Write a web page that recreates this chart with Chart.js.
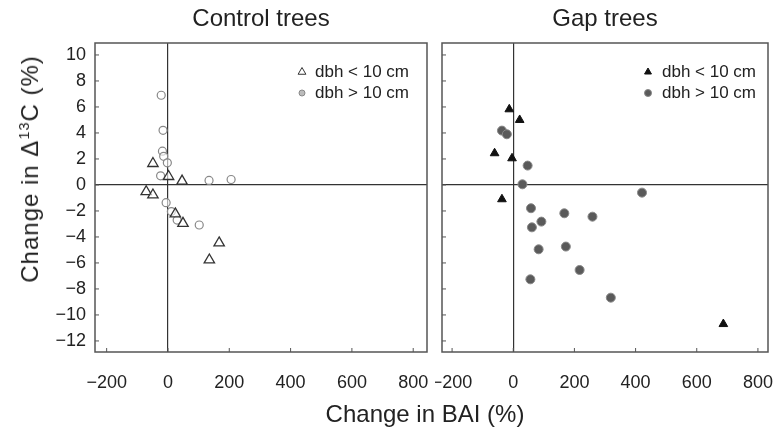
<!DOCTYPE html>
<html>
<head>
<meta charset="utf-8">
<script src="https://cdn.jsdelivr.net/npm/chart.js@4.4.0/dist/chart.umd.min.js"></script>
<style>
  html, body { margin: 0; padding: 0; background: #fff; }
  #wrap { position: relative; width: 778px; height: 432px; background: #fff; font-family: "Liberation Sans", Arial, sans-serif; color: #222; }
  canvas { position: absolute; top: 0; }
  .ytitle { position: absolute; left: 30px; top: 169px; transform: translate(-50%, -50%) rotate(-90deg); white-space: nowrap; font-size: 24px; letter-spacing: 1px; line-height: 1; }
  .ytitle sup { font-size: 0.6em; line-height: 0; }
  .xtitle { position: absolute; left: 425px; top: 414px; transform: translate(-50%, -50%); white-space: nowrap; font-size: 24px; line-height: 1; }
</style>
</head>
<body>
<div id="wrap">
  <canvas id="control" width="435" height="432" style="left:0"></canvas>
  <canvas id="gap" width="343" height="432" style="left:435px"></canvas>
  <div class="ytitle">Change in Δ<sup>13</sup>C (%)</div>
  <div class="xtitle">Change in BAI (%)</div>
</div>
<script>
"use strict";

/* Tick labels */
const xTicks = [-200, 0, 200, 400, 600, 800];
const yTicks = [-12, -10, -8, -6, -4, -2, 0, 2, 4, 6, 8, 10];
const legendLabels = ['dbh < 10 cm', 'dbh > 10 cm'];

/* Control trees */
const controlSmallX = [-49, 2, 46, -71, -49, 24, 49, 167, 135];
const controlSmallY = [1.65, 0.65, 0.3, -0.52, -0.77, -2.23, -2.95, -4.46, -5.77];
const controlLargeX = [-22, -16, -18, -14, -2, -24, 134, 206, -6, 11, 30, 102];
const controlLargeY = [6.9, 4.2, 2.6, 2.2, 1.7, 0.7, 0.35, 0.42, -1.36, -2.05, -2.7, -3.08];

/* Gap trees */
const gapSmallX = [-13, 21, -61, -4, -37, 687];
const gapSmallY = [5.82, 5.0, 2.44, 2.05, -1.1, -10.7];
const gapLargeX = [-37, -21, 47, 30, 58, 92, 61, 167, 259, 421, 83, 172, 217, 56, 319];
const gapLargeY = [4.18, 3.9, 1.49, 0.05, -1.79, -2.82, -3.26, -2.18, -2.44, -0.59, -4.95, -4.74, -6.54, -7.26, -8.67];

Chart.defaults.font.family = '"Liberation Sans", Arial, sans-serif';
Chart.defaults.color = '#222';

function points(xs, ys) {
    return xs.map(function (x, i) { return { x: x, y: ys[i] }; });
}

function minus(v) {
    return String(v).replace('-', '\u2212');
}

// frame, zero lines come from grid, small inward ticks
const framePlugin = {
    id: 'frame',
    beforeDatasetsDraw: function (chart) {
        const ctx = chart.ctx;
        const a = chart.chartArea;
        const xs = chart.scales.x, ys = chart.scales.y;
        ctx.save();
        ctx.strokeStyle = '#555';
        ctx.lineWidth = 1.5;
        ctx.strokeRect(a.left, a.top, a.right - a.left, a.bottom - a.top);
        ctx.lineWidth = 1;
        ctx.beginPath();
        xs.ticks.forEach(function (t) {
            const px = xs.getPixelForValue(t.value);
            ctx.moveTo(px, a.bottom);
            ctx.lineTo(px, a.bottom - 4);
        });
        ys.ticks.forEach(function (t) {
            const py = ys.getPixelForValue(t.value);
            ctx.moveTo(a.left, py);
            ctx.lineTo(a.left + 4, py);
        });
        ctx.stroke();
        ctx.restore();
    },
    afterDraw: function (chart, args, opts) {
        const ctx = chart.ctx;
        const a = chart.chartArea;
        ctx.save();
        ctx.font = '17px "Liberation Sans", Arial, sans-serif';
        ctx.textBaseline = 'middle';
        chart.data.datasets.forEach(function (ds, i) {
            const y = a.top + 29 + i * 21;
            const mx = a.right - opts.markerOffset;
            ctx.fillStyle = ds.legendFill;
            ctx.strokeStyle = ds.borderColor;
            ctx.lineWidth = 1;
            Chart.helpers.drawPoint(ctx, { pointStyle: ds.pointStyle, radius: ds.legendRadius, rotation: 0, borderWidth: 1 }, mx, y);
            ctx.fillStyle = '#222';
            ctx.fillText(legendLabels[i], a.right - opts.textOffset, y);
        });
        ctx.restore();
    }
};

function makeOptions(title, xMin, xMax, yWidth, showY, rightPad, markerOffset, textOffset) {
    return {
        responsive: false,
        animation: false,
        layout: { padding: { top: 0, left: 0, right: rightPad, bottom: 0 } },
        plugins: {
            legend: { display: false },
            tooltip: { enabled: false },
            title: {
                display: true,
                text: title,
                fullSize: false,
                color: '#222',
                font: { size: 24, weight: 'normal' },
                padding: { top: 5, bottom: 9.2 }
            },
            frame: { markerOffset: markerOffset, textOffset: textOffset }
        },
        scales: {
            x: {
                type: 'linear',
                min: xMin,
                max: xMax,
                afterBuildTicks: function (s) { s.ticks = xTicks.map(function (v) { return { value: v }; }); },
                afterFit: function (s) { s.height = 80; s.paddingLeft = 0; s.paddingRight = 0; },
                border: { display: false },
                grid: {
                    drawTicks: false,
                    lineWidth: 1.2,
                    color: function (c) { return c.tick && c.tick.value === 0 ? '#333' : 'rgba(0,0,0,0)'; }
                },
                ticks: { padding: 20, color: '#222', font: { size: 18 }, callback: minus, maxRotation: 0, autoSkip: false }
            },
            y: {
                type: 'linear',
                min: -12.85,
                max: 10.92,
                afterBuildTicks: function (s) { s.ticks = yTicks.map(function (v) { return { value: v }; }); },
                afterFit: function (s) { s.width = yWidth; s.paddingTop = 0; s.paddingBottom = 0; },
                border: { display: false },
                grid: {
                    drawTicks: false,
                    lineWidth: 1.2,
                    color: function (c) { return c.tick && c.tick.value === 0 ? '#333' : 'rgba(0,0,0,0)'; }
                },
                ticks: { display: showY, padding: 9, color: '#222', font: { size: 18 }, callback: minus, autoSkip: false }
            }
        }
    };
}

new Chart(document.getElementById('control'), {
    type: 'scatter',
    data: {
        datasets: [{
            label: legendLabels[0],
            data: points(controlSmallX, controlSmallY),
            pointStyle: 'triangle',
            pointRadius: 6,
            backgroundColor: 'rgba(255,255,255,0.6)',
            borderColor: '#333',
            borderWidth: 1.3,
            legendFill: '#fff',
            legendRadius: 4.5
        }, {
            label: legendLabels[1],
            data: points(controlLargeX, controlLargeY),
            pointStyle: 'circle',
            pointRadius: 4,
            backgroundColor: 'rgba(255,255,255,0.6)',
            borderColor: '#888',
            borderWidth: 1.2,
            legendFill: '#bbb',
            legendRadius: 3
        }]
    },
    options: makeOptions('Control trees', -238, 845, 95, true, 8, 125, 112),
    plugins: [framePlugin]
});

new Chart(document.getElementById('gap'), {
    type: 'scatter',
    data: {
        datasets: [{
            label: legendLabels[0],
            data: points(gapSmallX, gapSmallY),
            pointStyle: 'triangle',
            pointRadius: 5,
            backgroundColor: '#111',
            borderColor: '#111',
            borderWidth: 1,
            legendFill: '#111',
            legendRadius: 4
        }, {
            label: legendLabels[1],
            data: points(gapLargeX, gapLargeY),
            pointStyle: 'circle',
            pointRadius: 4.5,
            backgroundColor: '#5a5a5a',
            borderColor: '#888',
            borderWidth: 1,
            legendFill: '#5a5a5a',
            legendRadius: 3.5
        }]
    },
    options: makeOptions('Gap trees', -233, 833, 7, false, 10, 120, 106),
    plugins: [framePlugin]
});
</script>
</body>
</html>
